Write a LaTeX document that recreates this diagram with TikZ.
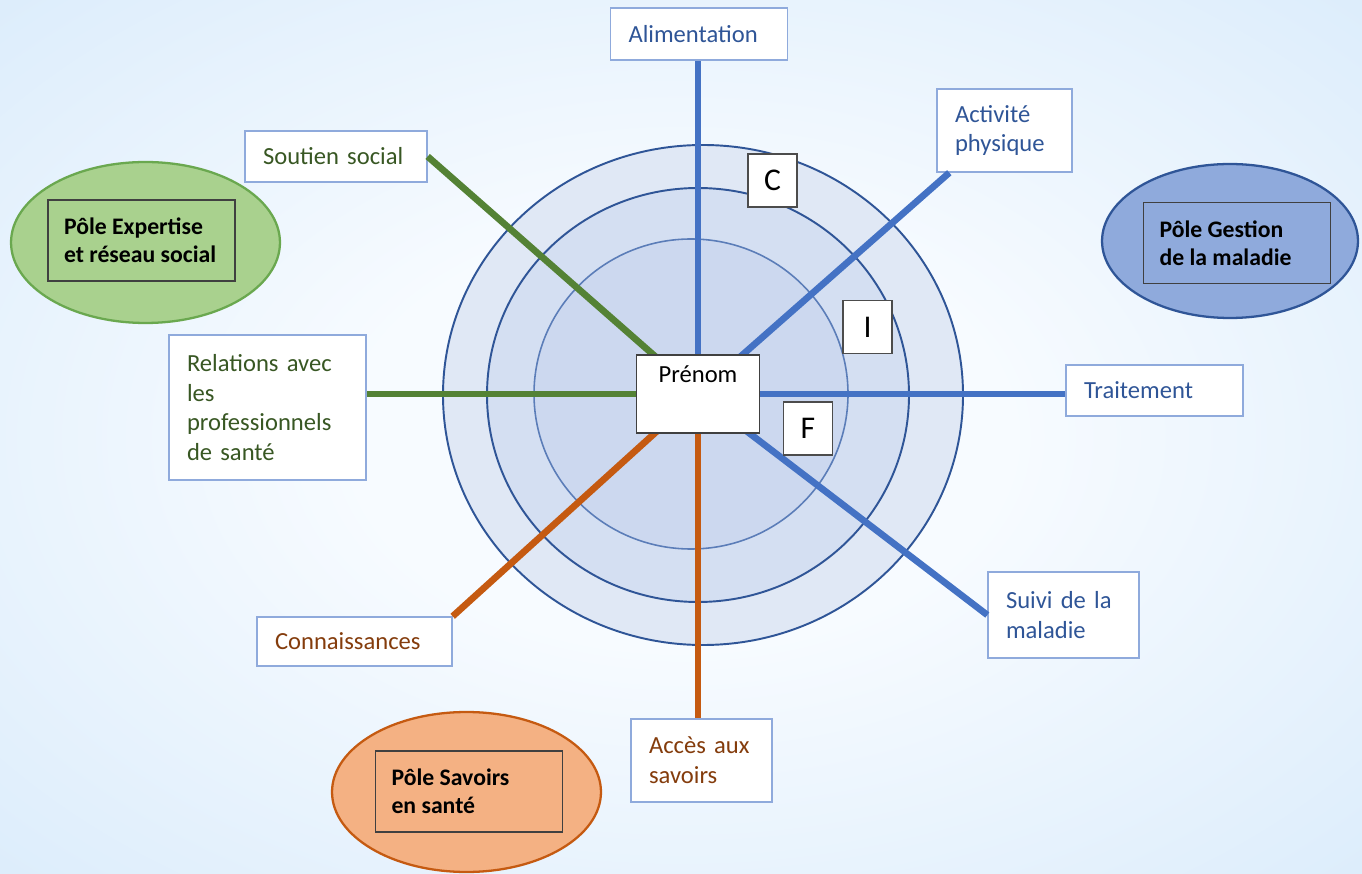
\documentclass[tikz,border=0pt]{standalone}
\usepackage{fontspec}
\setmainfont{Carlito}
\usetikzlibrary{shapes.geometric,positioning,calc,fadings}

\definecolor{bleuligne}{HTML}{4472C4}
\definecolor{vertligne}{HTML}{548235}
\definecolor{orangeligne}{HTML}{C55A11}
\definecolor{bleutexte}{HTML}{2F5597}
\definecolor{verttexte}{HTML}{385723}
\definecolor{orangetexte}{HTML}{843C0C}
\definecolor{cadre}{HTML}{8FAADC}
\definecolor{cercle}{HTML}{2F5597}
\definecolor{cerclein}{HTML}{5B7DB8}
\definecolor{anneauA}{HTML}{E0E8F5}
\definecolor{anneauB}{HTML}{D4DFF2}
\definecolor{anneauC}{HTML}{CCD8EF}
\definecolor{poleVert}{HTML}{A9D18E}
\definecolor{bordVert}{HTML}{6AA84F}
\definecolor{poleBleu}{HTML}{8FAADC}
\definecolor{bordBleu}{HTML}{2F5597}
\definecolor{poleOrange}{HTML}{F4B183}
\definecolor{bordOrange}{HTML}{C55A11}
\definecolor{fondA}{HTML}{F7FBFF}
\definecolor{fondB}{HTML}{CCE4F9}
\definecolor{bande}{HTML}{C3DDF4}

\pgfdeclareradialshading{fond}{\pgfpoint{0bp}{0bp}}{color(0bp)=(fondA); color(12bp)=(fondA); color(50bp)=(fondB); color(75bp)=(fondB)}
\tikzfading[name=fade bande, top color=transparent!100, middle color=transparent!30, bottom color=transparent!100]

\begin{document}
\begin{tikzpicture}[x=0.02cm, y=-0.02cm,
   etiquette/.style={draw=cadre, line width=0.8pt, fill=white, align=left,
     inner xsep=0.36cm, inner ysep=0pt, font=\fontsize{14}{17}\selectfont},
   pole/.style={ellipse, line width=1.3pt, inner sep=0pt},
   polebox/.style={draw=black!75, line width=0.8pt, align=flush left, inner xsep=0.32cm,
     text width=3.1cm, minimum height=1.62cm, font=\fontsize{13.5}{16}\selectfont\bfseries},
   lettre/.style={draw=black!70, line width=0.8pt, fill=white, minimum width=0.98cm,
     minimum height=1.06cm, inner sep=0pt, font=\fontsize{18}{20}\selectfont},
   rayon/.style={line width=3.8pt}]
   \useasboundingbox (0,0) rectangle (1362,874);
   \shade[shading=fond] (0,0) rectangle (1362,874);
   \fill[bande, path fading=fade bande] (0,630) rectangle (1362,780);

   \filldraw[fill=anneauA, draw=cercle, line width=1.1pt] (703,395) ellipse [x radius=260, y radius=250];
   \filldraw[fill=anneauB, draw=cercle, line width=1.1pt] (698,395) ellipse [x radius=211, y radius=207];
   \filldraw[fill=anneauC, draw=cerclein, line width=0.9pt] (691,394) ellipse [x radius=157, y radius=155];
   \coordinate (ctr) at (698,394);

   \node[pole, fill=poleVert, draw=bordVert, minimum width=5.38cm, minimum height=3.22cm] (poleV) at (145.5,242.5) {};
   \node[polebox] (poleVtxt) at (141.5,240.5) {Pôle Expertise\\et réseau social};
   \node[pole, fill=poleBleu, draw=bordBleu, minimum width=5.12cm, minimum height=3.08cm] (poleB) at (1230,241) {};
   \node[polebox] (poleBtxt) at (1237,243) {Pôle Gestion\\de la maladie};
   \node[pole, fill=poleOrange, draw=bordOrange, minimum width=5.38cm, minimum height=3.2cm] (poleO) at (466.5,792) {};
   \node[polebox] (poleOtxt) at (469,791.5) {Pôle Savoirs\\en santé};

   \node[etiquette, text=bleutexte, text width=2.82cm, minimum height=1.04cm] (alim) at (699,34) {Alimentation};
   \node[etiquette, text=bleutexte, text width=1.98cm, minimum height=1.66cm] (activ) at (1004.5,130.5) {Activité\\physique};
   \node[etiquette, text=bleutexte, text width=2.82cm, minimum height=1.02cm] (traitem) at (1154.5,390.5) {Traitement};
   \node[etiquette, text=bleutexte, text width=2.30cm, minimum height=1.72cm] (suivi) at (1063.5,615) {Suivi de la\\maladie};
   \node[etiquette, text=orangetexte, text width=2.10cm, minimum height=1.66cm] (acces) at (701.5,760.5) {Accès aux\\savoirs};
   \node[etiquette, text=orangetexte, text width=3.18cm, minimum height=0.98cm] (connais) at (354.5,641.5) {Connaissances};
   \node[etiquette, text=verttexte, text width=3.22cm, minimum height=2.90cm] (relations) at (267.5,407.5) {Relations avec\\les\\professionnels\\de santé};
   \node[etiquette, text=verttexte, text width=2.92cm, minimum height=1.02cm] (soutien) at (336,156.5) {Soutien social};

   \path
   (ctr) edge[rayon, bleuligne] (ctr |- alim.south)
   (ctr) edge[rayon, bleuligne] ($(activ.south west)+(13,0)$)
   (ctr) edge[rayon, bleuligne] (ctr -| traitem.west)
   (ctr) edge[rayon, bleuligne] (suivi.west)
   (ctr) edge[rayon, orangeligne] (ctr |- acces.north)
   (ctr) edge[rayon, orangeligne] (connais.north east)
   (ctr) edge[rayon, vertligne] (ctr -| relations.east)
   (ctr) edge[rayon, vertligne] (soutien.east);

   \node[draw=black!75, fill=white, line width=0.8pt, minimum width=2.46cm, minimum height=1.56cm,
     align=center, font=\fontsize{14}{17}\selectfont] (prenom) at (ctr) {Prénom\\\strut};
   \node[lettre] (lc) at (772.5,180.5) {C};
   \node[lettre] (li) at (867.5,327) {I};
   \node[lettre] (lf) at (808,428.5) {F};
\end{tikzpicture}
\end{document}
